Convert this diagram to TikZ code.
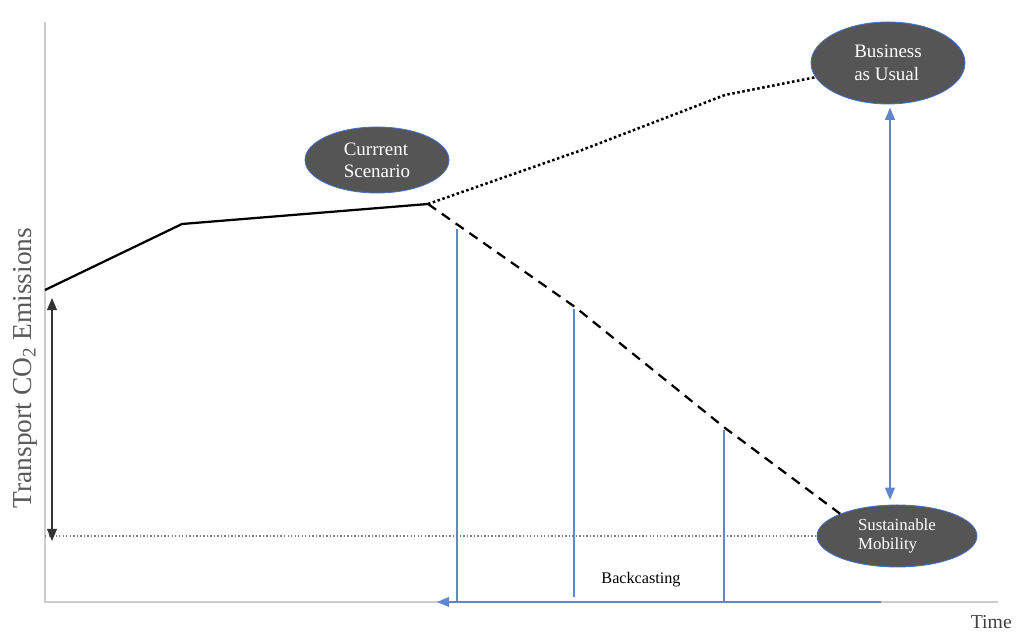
\documentclass[tikz,border=0pt]{standalone}
\usepackage{fontspec}
\setmainfont{Liberation Serif}
\usetikzlibrary{shapes}
\usetikzlibrary{arrows}
\definecolor{scenblue}{RGB}{68,114,196}
\definecolor{scengray}{RGB}{85,85,85}
\tikzstyle{scenario}=[ellipse,draw=scenblue,fill=scengray,text=white,inner sep=0mm,align=left,line width=0.6pt]
\tikzstyle{emission}=[black,line width=1.6pt]
\tikzstyle{cast}=[scenblue!85,line width=1pt]
\tikzstyle{axis}=[gray!40,line width=1.5pt]
\tikzstyle{arrow}=[->,>=triangle 45]

\begin{document}
\begin{tikzpicture}
    \useasboundingbox (0,0) rectangle (25.45,15.8);
    % axes
    \coordinate (o) at (1.125,0.75);
    \coordinate (ytop) at (1.125,15.25);
    \coordinate (xend) at (24.95,0.75);
    \draw[axis] (ytop) -- (o) -- (xend);
    \node[rotate=90,text=black!65,font=\fontsize{19.5}{22}\selectfont] at (0.625,6.6) (ylab) {Transport CO\textsubscript{2} Emissions};
    \node[anchor=east,inner sep=0pt,text=black!75,font=\fontsize{14}{16}\selectfont] at (25.3,0.25) (time) {Time};
    % scenarios
    \node[scenario,minimum width=3.6cm,minimum height=1.65cm,font=\fontsize{13.5}{15.5}\selectfont] at (9.425,11.8) (cur) {Currrent\\Scenario};
    \node[scenario,minimum width=3.85cm,minimum height=2.05cm,font=\fontsize{13.5}{16}\selectfont] at (22.2,14.225) (bau) {Business\\as Usual};
    \node[scenario,minimum width=4cm,minimum height=1.55cm,font=\fontsize{12}{13.5}\selectfont] at (22.425,2.4) (sm) {Sustainable\\Mobility};
    % emission paths
    \coordinate (e0) at (1.125,8.55);
    \coordinate (e1) at (4.55,10.2);
    \coordinate (now) at (10.7,10.7);
    \coordinate (u1) at (14.55,12.05);
    \coordinate (u2) at (18.125,13.425);
    \coordinate (s1) at (14.375,8.125);
    \coordinate (s2) at (18.125,5.1);
    \draw[emission,line join=round] (e0) -- (e1) -- (now);
    \draw[emission,line width=1.8pt,dash pattern=on 1.8pt off 1.8pt] (now) -- (u1) -- (u2) -- (bau);
    \draw[emission,dash pattern=on 7pt off 5pt] (now) -- (s1) -- (s2) -- (sm.north west);
    % sustainable level
    \draw[gray,line width=0.8pt,dash pattern=on 1pt off 1.5pt] (sm.west -| o) -- (sm.west);
    \coordinate (a1) at (1.3,8.35);
    \coordinate (a2) at (1.3,2.275);
    \draw[arrow,<->,black!80,line width=1pt] (a1) -- (a2);
    % backcasting
    \coordinate (c1) at (11.425,10.075);
    \coordinate (c2) at (14.35,8.075);
    \coordinate (c3) at (18.1,5.05);
    \coordinate (b0) at (22.025,0.75);
    \coordinate (b1) at (10.925,0.75);
    \draw[cast] (c1) -- (c1 |- o);
    \draw[cast] (c2) -- ([yshift=0.125cm]c2 |- o);
    \draw[cast] (c3) -- (c3 |- o);
    \draw[cast,arrow] (b0) -- (b1);
    \draw[cast,arrow,<->,shorten <=0.08cm,shorten >=0.12cm] ([xshift=0.05cm]bau.south) -- ([xshift=0.05cm]bau.south |- sm.north);
    \node[font=\fontsize{11.5}{13}\selectfont] at (16.025,1.3) (bc) {Backcasting};
  \end{tikzpicture}
\end{document}
